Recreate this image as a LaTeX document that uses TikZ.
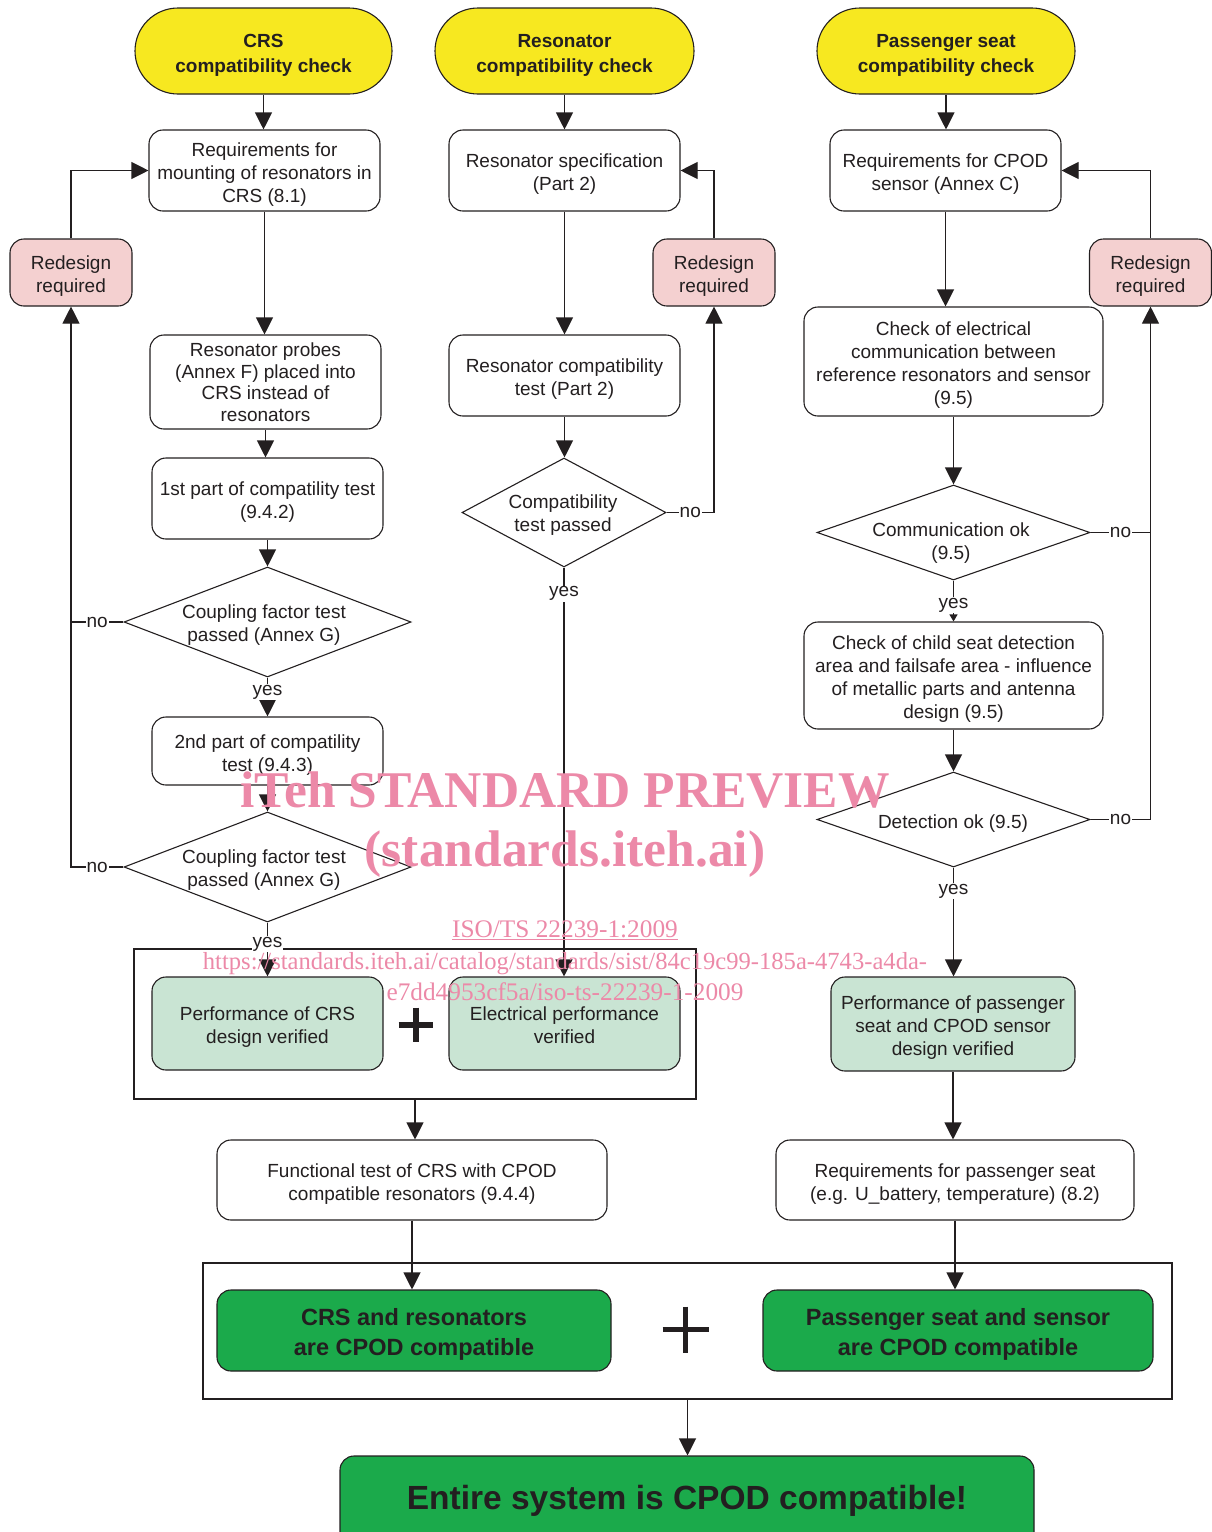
\documentclass[tikz,border=0pt]{standalone}
\usepackage{fontspec}
\setmainfont{Liberation Sans}
\newfontfamily\wmfont{Liberation Serif}
\usetikzlibrary{arrows.meta,shapes.geometric,calc}
\definecolor{yel}{RGB}{247,232,32}
\definecolor{pinkf}{RGB}{244,208,208}
\definecolor{lgreen}{RGB}{201,228,211}
\definecolor{dgreen}{RGB}{27,170,75}
\definecolor{linec}{RGB}{35,31,32}
\definecolor{txt}{RGB}{35,31,32}
\definecolor{wmark}{RGB}{236,137,168}
\newcommand{\tl}{\rule{0pt}{23.5pt}}
\newcommand{\bl}{\rule[-6pt]{0pt}{6pt}}
\newcommand{\tlb}{\rule{0pt}{27pt}}
\newcommand{\blb}{\rule[-7pt]{0pt}{7pt}}
\begin{document}
\begin{tikzpicture}[x=1pt,y=-1pt,
  base/.style={draw=linec, line width=1.1pt, rounded corners=14pt, align=center, inner sep=0pt, text=txt, font=\fontsize{19}{23}\selectfont},
  term/.style={base, fill=yel, rounded corners=43pt, minimum height=86pt, font=\bfseries\fontsize{19}{25}\selectfont},
  proc/.style={base, fill=white},
  redo/.style={base, fill=pinkf, minimum width=122pt, minimum height=67pt},
  okbox/.style={base, fill=lgreen},
  bigok/.style={base, fill=dgreen, font=\bfseries\fontsize{23.5}{30}\selectfont},
  dec/.style={diamond, draw=linec, line width=1.1pt, inner sep=0pt, fill=white},
  dtext/.style={align=center, inner sep=0pt, text=txt, font=\fontsize{19}{23}\selectfont},
  conn/.style={draw=linec, line width=1.1pt},
  arr/.style={conn, -{Triangle[length=17pt,width=17pt]}},
  smallarr/.style={conn, -{Triangle[length=7pt,width=8pt]}},
  lbl/.style={fill=white, inner sep=1pt, text=txt, font=\fontsize{19}{23}\selectfont},
  grp/.style={draw=linec, line width=1.1pt, inner sep=0pt},
  plusbar/.style={draw=txt, line width=6pt},
  wm/.style={text=wmark, inner sep=0pt, anchor=base, font=\wmfont\fontsize{25.3}{25.3}\selectfont}
]
\useasboundingbox (0,0) rectangle (1212,1532);
\clip (0,0) rectangle (1212,1532);

% ---------- group boxes (behind) ----------
\node[grp, minimum width=562pt, minimum height=150pt] (g1) at (415,1024) {};
\node[grp, minimum width=969pt, minimum height=136pt] (g2) at (687.5,1331) {};

% ---------- terminators ----------
\node[term, minimum width=257pt] (t1) at (263.5,51) {\tl CRS\\compatibility check\bl};
\node[term, minimum width=259pt] (t2) at (564.5,51) {\tl Resonator\\compatibility check\bl};
\node[term, minimum width=258pt] (t3) at (946,51) {\tl Passenger seat\\compatibility check\bl};

% ---------- column 1 ----------
\node[proc, minimum width=231pt, minimum height=81pt] (req1) at (264.5,170.5) {\tl Requirements for\\mounting of resonators in\\CRS (8.1)\bl};
\node[redo] (rd1) at (71,272.5) {\tl Redesign\\required\bl};
\node[proc, minimum width=231pt, minimum height=94pt, font=\fontsize{19}{21.5}\selectfont] (probes) at (265.5,382) {Resonator probes\\(Annex F) placed into\\CRS instead of\\resonators};
\node[proc, minimum width=231pt, minimum height=81pt] (first) at (267.5,498.5) {\tl 1st part of compatility test\\(9.4.2)\bl};
\node[dec, minimum width=287pt, minimum height=110pt] (d1) at (267.5,622) {};
\node[dtext] (d1t) at (264,625.5) {Coupling factor test\\passed (Annex G)};
\node[proc, minimum width=231pt, minimum height=68pt] (second) at (267.5,751) {\tl 2nd part of compatility\\test (9.4.3)\bl};
\node[dec, minimum width=287pt, minimum height=110pt] (d2) at (267.5,867) {};
\node[dtext] (d2t) at (264,870.5) {Coupling factor test\\passed (Annex G)};
\node[okbox, minimum width=231pt, minimum height=93pt] (perfcrs) at (267.5,1023.5) {\tl Performance of CRS\\design verified\bl};
\node[proc, minimum width=390pt, minimum height=80pt] (func) at (412,1180) {\tl Functional test of CRS with CPOD\\compatible resonators (9.4.4)\bl};

% ---------- column 2 ----------
\node[proc, minimum width=231pt, minimum height=81pt] (spec) at (564.5,170.5) {\tl Resonator specification\\(Part 2)\bl};
\node[redo] (rd2) at (714,272.5) {\tl Redesign\\required\bl};
\node[proc, minimum width=231pt, minimum height=81pt] (restest) at (564.5,375.5) {\tl Resonator compatibility\\test (Part 2)\bl};
\node[dec, minimum width=204pt, minimum height=109pt] (d3) at (564,512.5) {};
\node[dtext] (d3t) at (563,515.5) {Compatibility\\test passed};
\node[okbox, minimum width=231pt, minimum height=93pt] (elec) at (564.5,1023.5) {\tl Electrical performance\\verified\bl};

% ---------- column 3 ----------
\node[proc, minimum width=231pt, minimum height=81pt] (req3) at (945.5,170.5) {\tl Requirements for CPOD\\sensor (Annex C)\bl};
\node[redo] (rd3) at (1150.5,272.5) {\tl Redesign\\required\bl};
\node[proc, minimum width=299pt, minimum height=109pt] (checkel) at (953.5,361.5) {\tl Check of electrical\\communication between\\reference resonators and sensor\\(9.5)\bl};
\node[dec, minimum width=273pt, minimum height=95pt] (d4) at (953.5,532.5) {};
\node[dtext] (d4t) at (951,543) {Communication ok\\(9.5)};
\node[proc, minimum width=299pt, minimum height=107pt] (child) at (953.5,675.5) {\tl Check of child seat detection\\area and failsafe area - influence\\of metallic parts and antenna\\design (9.5)\bl};
\node[dec, minimum width=273pt, minimum height=95pt] (d5) at (953.5,819.5) {};
\node[dtext] (d5t) at (953,824) {Detection ok (9.5)};
\node[okbox, minimum width=244pt, minimum height=94pt] (perfseat) at (953,1024) {\tl Performance of passenger\\seat and CPOD sensor\\design verified\bl};
\node[proc, minimum width=358pt, minimum height=80pt] (reqseat) at (955,1180) {\tl Requirements for passenger seat\\(e.g. U\_battery, temperature) (8.2)\bl};

% ---------- bottom ----------
\node[bigok, minimum width=394pt, minimum height=81pt] (crsg) at (414,1330.5) {\tlb CRS and resonators\\are CPOD compatible\blb};
\node[bigok, minimum width=390pt, minimum height=81pt] (seatg) at (958,1330.5) {\tlb Passenger seat and sensor\\are CPOD compatible\blb};
\node[bigok, minimum width=694pt, minimum height=90pt, font=\bfseries\fontsize{33.5}{36}\selectfont] (final) at (687,1501) {Entire system is CPOD compatible!};

% plus signs
\coordinate (plus1) at (415.5,1024.5);
\draw[plusbar] ($(plus1)+(0,-17)$) -- ($(plus1)+(0,17)$);
\draw[plusbar] ($(plus1)+(-17,0)$) -- ($(plus1)+(17,0)$);
\coordinate (plus2) at (685.5,1329.5);
\draw[plusbar, line width=4.5pt] ($(plus2)+(0,-23)$) -- ($(plus2)+(0,23)$);
\draw[plusbar, line width=4.5pt] ($(plus2)+(-23,0)$) -- ($(plus2)+(23,0)$);

% ---------- connectors column 1 ----------
\draw[arr] (t1.south) -- (t1.south |- req1.north);
\draw[arr] (req1.south) -- (req1.south |- probes.north);
\draw[arr] (probes.south) -- (probes.south |- first.north);
\draw[arr] (first.south) -- (first.south |- d1.north);
\draw[arr] (d1.south) -- node[lbl, pos=0.38]{yes} (d1.south |- second.north);
\draw[arr] (second.south) -- (second.south |- d2.north);
\draw[arr] (d2.south) -- node[lbl, pos=0.40]{yes} (d2.south |- perfcrs.north);
\draw[conn] (d1.west) -- node[lbl]{no} (d1.west -| rd1.south);
\draw[arr] (d2.west) -- node[lbl]{no} (d2.west -| rd1.south) -- (rd1.south);
\draw[arr] (rd1.north) |- (req1.west);
\draw[arr] (g1.south) -- (g1.south |- func.north);
\draw[arr] (func.south) -- (func.south |- crsg.north);

% ---------- connectors column 2 ----------
\draw[arr] (t2.south) -- (t2.south |- spec.north);
\draw[arr] (spec.south) -- (spec.south |- restest.north);
\draw[arr] (restest.south) -- (restest.south |- d3.north);
\draw[arr] (d3.south) -- node[lbl, pos=0.064]{yes} (d3.south |- elec.north);
\draw[arr] (d3.east) -- node[lbl]{no} (d3.east -| rd2.south) -- (rd2.south);
\draw[arr] (rd2.north) |- (spec.east);

% ---------- connectors column 3 ----------
\draw[arr] (t3.south) -- (t3.south |- req3.north);
\draw[arr] (req3.south) -- (req3.south |- checkel.north);
\draw[arr] (checkel.south) -- (checkel.south |- d4.north);
\draw[smallarr] (d4.south) -- node[lbl, pos=0.6]{yes} (d4.south |- child.north);
\draw[arr] (child.south) -- (child.south |- d5.north);
\draw[arr] (d5.south) -- node[lbl, pos=0.216]{yes} (d5.south |- perfseat.north);
\draw[conn] (d4.east) -- node[lbl]{no} (d4.east -| rd3.south);
\draw[arr] (d5.east) -- node[lbl]{no} (d5.east -| rd3.south) -- (rd3.south);
\draw[arr] (rd3.north) |- (req3.east);
\draw[arr] (perfseat.south) -- (perfseat.south |- reqseat.north);
\draw[arr] (reqseat.south) -- (reqseat.south |- seatg.north);
\draw[arr] (g2.south) -- (g2.south |- final.north);

% ---------- watermark ----------
\node[wm, font=\wmfont\bfseries\fontsize{51.5}{51.5}\selectfont] (wm1) at (565,807) {iTeh STANDARD PREVIEW};
\node[wm, font=\wmfont\bfseries\fontsize{51.5}{51.5}\selectfont] (wm2) at (565,866) {(standards.iteh.ai)};
\node[wm] (wm3) at (565,937) {\underline{ISO/TS 22239-1:2009}};
\node[wm, font=\wmfont\fontsize{24.6}{24.6}\selectfont] (wm4) at (565,969) {https://standards.iteh.ai/catalog/standards/sist/84c19c99-185a-4743-a4da-};
\node[wm] (wm5) at (565,1000) {e7dd4953cf5a/iso-ts-22239-1-2009};
\end{tikzpicture}
\end{document}
